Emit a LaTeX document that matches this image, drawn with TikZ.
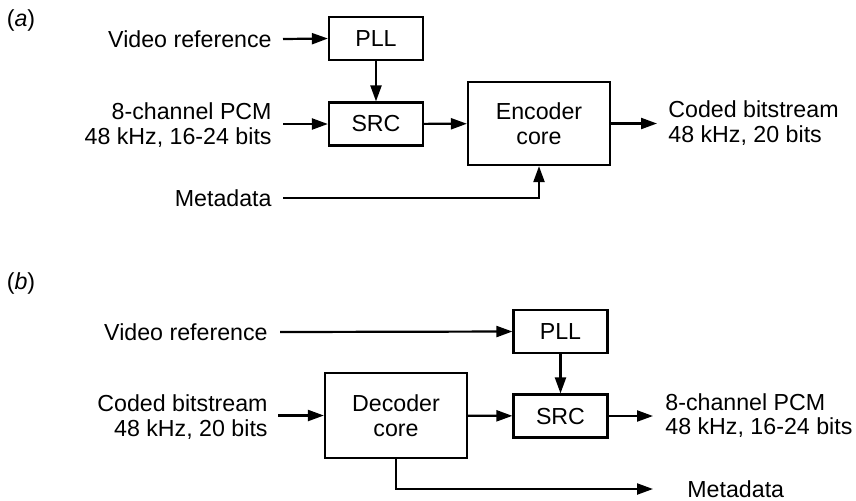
\documentclass[tikz,border=0pt]{standalone}
\usepackage{fontspec}
\setmainfont{Liberation Sans}
\usetikzlibrary{arrows.meta,positioning}
\newcommand{\lblfont}{\fontsize{11.6}{12.3}\selectfont}

\begin{document}
\begin{tikzpicture}[x=0.5pt, y=-0.5pt,
    blk/.style={rectangle, draw, line width=1.1pt, font=\lblfont,
        minimum width=47pt, minimum height=21.5pt, inner sep=0pt},
    bigblk/.style={blk, minimum width=71pt, minimum height=42pt, align=center},
    lbl/.style={inner sep=0pt, font=\lblfont},
    arr/.style={-{Triangle[length=8pt, width=5.5pt]}, line width=1.1pt}
]
    \useasboundingbox (0,0) rectangle (856,500);

    \node[lbl] (taga) at (21,20) {(\textit{a})};
    \node[blk] (plla) at (376,38.5) {PLL};
    \node[blk] (srca) at (376,124) {SRC};
    \node[bigblk, minimum height=41.5pt] (enca) at (539,123.5) {Encoder\\core};
    \node[lbl, anchor=east] (vrefa) at (272,39) {Video reference};
    \node[lbl, anchor=east, align=right] (pcma) at (272,125) {8-channel PCM\\48 kHz, 16-24 bits};
    \node[lbl, anchor=east] (metaa) at (272,198) {Metadata};
    \node[lbl, anchor=west, align=left] (bsa) at (668,123) {Coded bitstream\\48 kHz, 20 bits};

    \draw[arr] ([xshift=5.5pt]vrefa.east) -- (plla.west);
    \draw[arr] (plla) -- (srca);
    \draw[arr] ([xshift=5.5pt]pcma.east |- srca.west) -- (srca.west);
    \draw[arr] (srca) -- (enca);
    \draw[arr] (enca.east) -- ([xshift=-5.5pt]bsa.west |- enca.east);
    \draw[arr] ([xshift=5.5pt]metaa.east) -| (enca.south);

    \node[lbl] (tagb) at (21,283) {(\textit{b})};
    \node[blk] (pllb) at (560.5,331.5) {PLL};
    \node[blk] (srcb) at (560.5,416) {SRC};
    \node[bigblk, minimum height=42.5pt] (decb) at (396,415.5) {Decoder\\core};
    \node[lbl, anchor=east] (vrefb) at (268,332) {Video reference};
    \node[lbl, anchor=east, align=right] (bsb) at (268,417) {Coded bitstream\\48 kHz, 20 bits};
    \node[lbl, anchor=west, align=left] (pcmb) at (665,415.5) {8-channel PCM\\48 kHz, 16-24 bits};
    \node[lbl, anchor=west] (metab) at (687,489) {Metadata};

    \draw[arr] ([xshift=6pt]vrefb.east) -- (pllb.west);
    \draw[arr] ([xshift=5pt]bsb.east |- decb.west) -- (decb.west);
    \draw[arr] (decb) -- (srcb);
    \draw[arr] (pllb) -- (srcb);
    \draw[arr] (srcb.east) -- ([xshift=-6pt]pcmb.west |- srcb.east);
    \draw[arr] (decb.south) |- ([xshift=-17pt]metab.west);
\end{tikzpicture}
\end{document}
